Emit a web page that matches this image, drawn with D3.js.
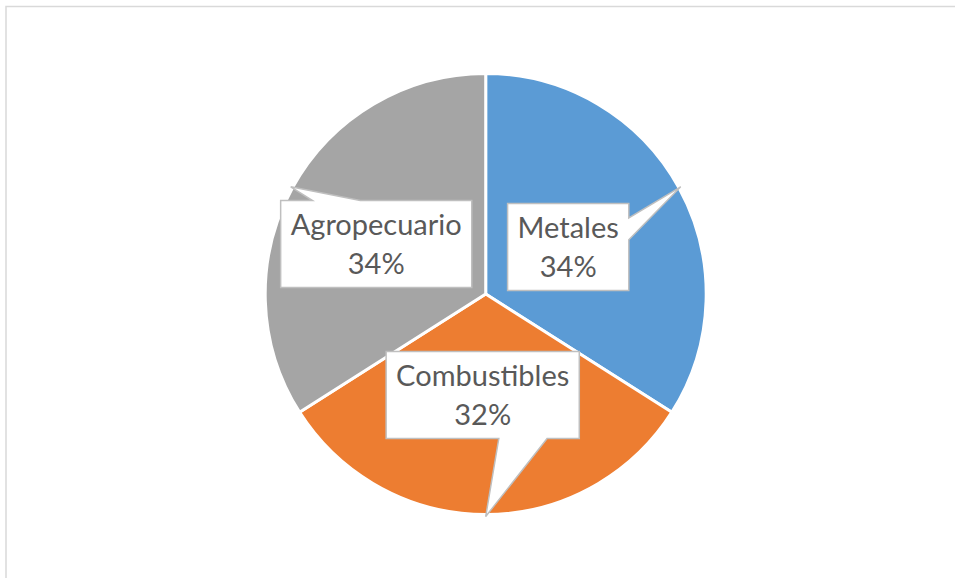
<!DOCTYPE html>
<html>
<head>
<meta charset="utf-8">
<script src="https://cdn.jsdelivr.net/npm/d3@7"></script>
<style>
  html, body { margin: 0; padding: 0; background: #ffffff; }
  svg { display: block; }
</style>
</head>
<body>
<svg id="chart" width="955" height="578"></svg>
<script>
// Export composition by sector (share of total, %)
const categories = ["Metales", "Combustibles", "Agropecuario"];
const values = [34, 32, 34];
const colors = ["#5B9BD5", "#ED7D31", "#A5A5A5"];

// Layout
const W = 955, H = 578;
const cx = 485.7, cy = 294, radius = 220.5;
// callout box centres, offset from the pie centre
const calloutOffsets = [[82.5, -47], [-3, 101], [-109.5, -50]];
const boxHeight = 87, boxPad = 10, lineGap = 39;
const fontFamily = "Lato, 'Open Sans', sans-serif";
const fontSize = 29;
const textColor = "#595959";

const svg = d3.select("#chart");

// chart area frame (only top/left edges fall inside the view)
svg.append("rect")
  .attr("x", 6).attr("y", 6.5)
  .attr("width", W + 20).attr("height", H + 20)
  .attr("fill", "#ffffff")
  .attr("stroke", "#d9d9d9")
  .attr("stroke-width", 1.5);

const pie = d3.pie().sort(null).value(d => d.value);
const arcs = pie(categories.map((c, i) => ({ name: c, value: values[i], color: colors[i] })));
const arc = d3.arc().innerRadius(0).outerRadius(radius);

const g = svg.append("g").attr("transform", `translate(${cx},${cy})`);

g.selectAll("path.slice")
  .data(arcs)
  .join("path")
  .attr("class", "slice")
  .attr("d", arc)
  .attr("fill", d => d.data.color)
  .attr("stroke", "#ffffff")
  .attr("stroke-width", 3)
  .attr("stroke-linejoin", "round");

// Rectangular callout with a wedge pointing at (tx, ty), box given by centre and size
function calloutPath(bx, by, w, h, tx, ty) {
  const l = bx - w / 2, r = bx + w / 2, t = by - h / 2, b = by + h / 2;
  const dx = tx - bx, dy = ty - by;
  const dq = dx * h / w;
  const dz = Math.abs(dy) - Math.abs(dq);
  const p = d3.path();
  if (dz > 0) {
    const x1 = l + w * (dx > 0 ? 7 : 2) / 12;
    const x2 = l + w * (dx > 0 ? 10 : 5) / 12;
    if (dy < 0) {
      p.moveTo(l, t); p.lineTo(x1, t); p.lineTo(tx, ty); p.lineTo(x2, t);
      p.lineTo(r, t); p.lineTo(r, b); p.lineTo(l, b); p.closePath();
    } else {
      p.moveTo(l, t); p.lineTo(r, t); p.lineTo(r, b); p.lineTo(x2, b);
      p.lineTo(tx, ty); p.lineTo(x1, b); p.lineTo(l, b); p.closePath();
    }
  } else {
    const y1 = t + h * (dy > 0 ? 7 : 2) / 12;
    const y2 = t + h * (dy > 0 ? 10 : 5) / 12;
    if (dx > 0) {
      p.moveTo(l, t); p.lineTo(r, t); p.lineTo(r, y1); p.lineTo(tx, ty);
      p.lineTo(r, y2); p.lineTo(r, b); p.lineTo(l, b); p.closePath();
    } else {
      p.moveTo(l, t); p.lineTo(r, t); p.lineTo(r, b); p.lineTo(l, b);
      p.lineTo(l, y2); p.lineTo(tx, ty); p.lineTo(l, y1); p.closePath();
    }
  }
  return p.toString();
}

const fmt = d3.format(".0f");
const labels = g.append("g").attr("class", "callouts");

arcs.forEach((d, i) => {
  const mid = (d.startAngle + d.endAngle) / 2;
  const tipR = radius + 2;
  const tx = Math.sin(mid) * tipR, ty = -Math.cos(mid) * tipR;
  const [bx, by] = calloutOffsets[i];

  const grp = labels.append("g");
  const box = grp.append("path");
  const text = grp.append("text")
    .attr("text-anchor", "middle")
    .attr("font-family", fontFamily)
    .attr("font-size", fontSize)
    .attr("fill", textColor);
  const t1 = text.append("tspan").attr("x", bx).attr("y", by - lineGap / 2 + 10).text(d.data.name);
  const t2 = text.append("tspan").attr("x", bx).attr("y", by + lineGap / 2 + 10).text(fmt(d.data.value) + "%");

  const tw = Math.max(t1.node().getComputedTextLength(), t2.node().getComputedTextLength());
  const w = tw + 2 * boxPad;
  box.attr("d", calloutPath(bx, by, w, boxHeight, tx, ty))
    .attr("fill", "#ffffff")
    .attr("stroke", "#bfbfbf")
    .attr("stroke-width", 1.5)
    .attr("stroke-linejoin", "miter");
});
</script>
</body>
</html>
